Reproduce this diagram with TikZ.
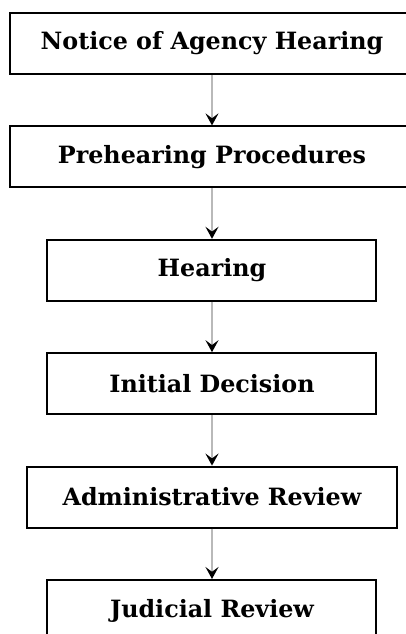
\documentclass[tikz,border=0pt]{standalone}
\usepackage{fontspec}
\setmainfont{DejaVu Serif}
\usepackage{tikz}
\usetikzlibrary{arrows.meta,positioning}

\begin{document}
\begin{tikzpicture}[
  x=1pt, y=1pt,
  node distance=25.2pt,
  box/.style={draw, line width=1pt, fill=white, minimum height=30.5pt, align=center, font=\fontsize{11.9}{13}\selectfont\bfseries},
  wide/.style={box, minimum width=202pt},
  mid/.style={box, minimum width=185pt},
  narrow/.style={box, minimum width=164.5pt},
  arr/.style={-{Stealth[black, length=6pt, width=6.5pt, inset=2.4pt]}, gray!55, line width=1.3pt}
]
  \useasboundingbox (0,0) rectangle (203,-317);

  \node[wide] (notice) at (106,-21.75) {Notice of Agency Hearing};
  \node[wide, below=of notice] (prehear) {Prehearing Procedures};
  \node[narrow, below=of prehear] (hearing) {Hearing};
  \node[narrow, below=of hearing] (initial) {Initial Decision};
  \node[mid, below=of initial] (admin) {Administrative Review};
  \node[narrow, below=of admin] (judicial) {Judicial Review};

  \draw[arr] (notice) -- (prehear);
  \draw[arr] (prehear) -- (hearing);
  \draw[arr] (hearing) -- (initial);
  \draw[arr] (initial) -- (admin);
  \draw[arr] (admin) -- (judicial);
\end{tikzpicture}
\end{document}
